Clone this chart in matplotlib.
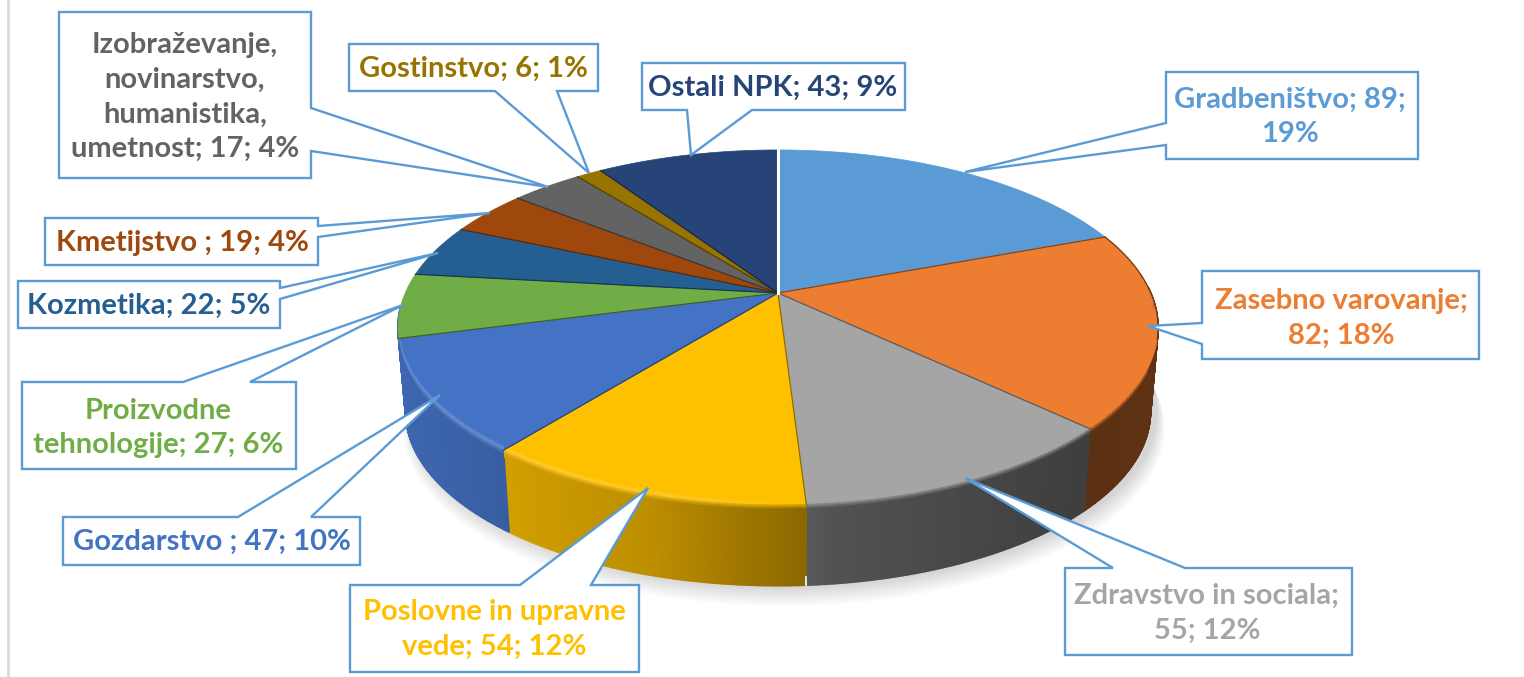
import numpy as np
import matplotlib
matplotlib.use("Agg")
import matplotlib.pyplot as plt
from matplotlib.collections import PolyCollection
from matplotlib.colors import to_rgb
from matplotlib.patches import Polygon

names = ["Gradbeništvo", "Zasebno varovanje", "Zdravstvo in sociala", "Poslovne in upravne\nvede",
         "Gozdarstvo ", "Proizvodne\ntehnologije", "Kozmetika", "Kmetijstvo ",
         "Izobraževanje,\nnovinarstvo,\nhumanistika,\numetnost", "Gostinstvo", "Ostali NPK"]
values = [89, 82, 55, 54, 47, 27, 22, 19, 17, 6, 43]
percents = [19, 18, 12, 12, 10, 6, 5, 4, 4, 1, 9]
colors = ["#5B9BD5", "#ED7D31", "#A5A5A5", "#FFC000", "#4472C4", "#70AD47",
          "#255E91", "#9E480E", "#636363", "#997300", "#264478"]
# where the label wraps: after the name, after the value
sep_name = ["", "\n", "\n", "", "", "", "", "", "", "", ""]
sep_value = ["\n", "", "", "", "", "", "", "", "", "", ""]

# pixel layout of the callouts: box, tail start, tip, tail end
boxes = [(1166, 72, 1418, 159), (1202, 271, 1479, 359), (1065, 568, 1352, 655), (350, 585, 639, 672),
         (63, 517, 360, 565), (22, 382, 296, 469), (18, 281, 280, 328), (45, 218, 318, 265),
         (59, 12, 311, 178), (349, 44, 598, 91), (642, 63, 905, 110)]
tails = [((1166, 123), (965, 172), (1166, 145)), ((1202, 323), (1148, 326), (1202, 344)),
         ((1113, 568), (965, 478), (1185, 568)), ((520, 585), (648, 488), (591, 585)),
         ((238, 517), (440, 395), (311, 517)), ((183, 382), (403, 305), (250, 382)),
         ((280, 288), (438, 253), (280, 299)), ((318, 226), (490, 213), (318, 237)),
         ((311, 108), (548, 187), (311, 151)), ((495, 91), (589, 173), (557, 91)),
         ((687, 110), (691, 155), (752, 110))]
text_pos = [(1290, 117), (1341, 318), (1207, 613), (494, 629), (212, 542), (158, 428), (149, 306),
            (182, 243), (185, 97), (473, 69), (773, 88)]

cx, cy = 778, 293
k, a, h = 0.194, 372.8, 170.8
shrink, depth = 0.98, 85
n_wall = 5  # only the first five slices show a wall


def rim(t):
    # perspective view of the pie circle, t clockwise from the back
    w = 1 + k * np.cos(t)
    return cx + a * np.sin(t) / w, cy - h * np.cos(t) / w


def low(t):
    x, y = rim(t)
    return cx + (x - cx) * shrink, cy + (y - cy) * shrink + depth


def mix(c1, c2, f):
    return tuple(np.array(c1) * (1 - f) + np.array(c2) * f)


def wall_shade(x):
    return np.interp(x, [400, 510, 650, 800, 830, 1080, 1157], [0.9, 0.82, 0.74, 0.55, 0.5, 0.38, 0.4])


fig = plt.figure(figsize=(15.24, 6.77), dpi=100)
ax = fig.add_axes([0, 0, 1, 1])
ax.set_xlim(0, 1524)
ax.set_ylim(677, 0)
ax.axis("off")
ax.plot([8, 8], [0, 677], color="#d9d9d9", lw=2, zorder=1)

edges = np.cumsum([0] + values) / sum(values) * 2 * np.pi

# soft shadow below the pie
t_all = np.linspace(0, 2 * np.pi, 360)
lx, ly = low(t_all)
for i in range(14):
    s = 1.0 + (14 - i) * 0.0016
    ax.add_patch(Polygon(np.c_[cx + 6 + (lx - cx) * s, cy + (ly - cy) * s + (14 - i) * 1.0],
                         fc="black", ec="none", alpha=0.012, zorder=2))

# outer wall
for i in range(1, n_wall):
    lo = max(edges[i], np.radians(88))
    hi = edges[i + 1] if i < n_wall - 1 else edges[i + 1] + np.radians(10)
    t = np.linspace(lo, hi, max(int((hi - lo) * 120), 4))
    x0, y0 = rim(t)
    x1, y1 = low(t)
    base = np.array(to_rgb(colors[i]))
    quads, cols = [], []
    for j in range(len(t) - 1):
        quads.append([(x0[j], y0[j]), (x0[j + 1], y0[j + 1]), (x1[j + 1], y1[j + 1]), (x1[j], y1[j])])
        cols.append(tuple(base * wall_shade(x0[j])))
    ax.add_collection(PolyCollection(quads, facecolors=cols, edgecolors=cols, linewidths=1.2, zorder=3))

# top face
for i, col in enumerate(colors):
    t = np.linspace(edges[i], edges[i + 1], max(int((edges[i + 1] - edges[i]) * 120), 4))
    x0, y0 = rim(t)
    ax.add_patch(Polygon(np.r_[[(cx, cy)], np.c_[x0, y0]], fc=col, ec=col, lw=0.5, zorder=4))

# thin dark seams between the slices, dark edge round the orange slice
for i, col in enumerate(colors):
    xe, ye = rim(np.array([edges[i]]))
    dark = tuple(np.array(to_rgb(col)) * 0.45)
    if i != 0:
        ax.plot([cx, xe[0]], [cy, ye[0]], color=dark, lw=0.9, alpha=0.8, zorder=6)
t = np.linspace(edges[1], np.radians(105), 60)
xo, yo = rim(t)
ax.plot(xo, yo, color="#6b3a14", lw=0.9, zorder=6)

# bevel between top face and wall, kept inside its own slice
offsets = [-7, -4, -2, 0, 2, 4, 7]
for i, col in enumerate(colors):
    lo, hi = max(edges[i], np.radians(93)), min(edges[i + 1], np.radians(258))
    if hi <= lo:
        continue
    t = np.linspace(lo, hi, max(int((hi - lo) * 120), 4))
    x0, y0 = rim(t)
    x1, y1 = low(t)
    base = np.array(to_rgb(col))
    quads, cols = [], []
    for j in range(len(t) - 1):
        wall = base * wall_shade(x0[j])
        glow = np.interp(x0[j], [400, 700, 800], [0.2, 0.12, 0.0])
        light = mix(base, (1, 1, 1), glow)
        steps = [base, mix(base, light, 0.7), light, mix(light, wall, 0.4), mix(light, wall, 0.75), wall]
        for n in range(6):
            quads.append([(x0[j], y0[j] + offsets[n]), (x0[j + 1], y0[j + 1] + offsets[n]),
                          (x0[j + 1], y0[j + 1] + offsets[n + 1]), (x0[j], y0[j] + offsets[n + 1])])
            cols.append(steps[n])
    bevel = PolyCollection(quads, facecolors=cols, edgecolors=cols, linewidths=0.6, zorder=5)
    ax.add_collection(bevel)
    outline = Polygon(np.r_[[(cx, cy), (x0[0], y0[0])], np.c_[x1, y1], [(x0[-1], y0[-1])]], transform=ax.transData)
    bevel.set_clip_path(outline)

# white seam at 12 o'clock and at the foot of the wall
xs, ys = rim(np.array([0.0]))
ax.plot([cx, xs[0]], [cy, ys[0]], color="white", lw=2.2, zorder=6)
xb, yb = low(np.array([edges[3]]))
ax.plot([xb[0], xb[0]], [yb[0] - 8, yb[0]], color="white", lw=1.2, zorder=6)

# callouts
for i in range(len(values)):
    l, t, r, b = boxes[i]
    p1, tip, p2 = tails[i]
    top, right, bottom, left = [], [], [], []
    if p1[1] == t:
        top = [p1, tip, p2]
    elif p1[1] == b:
        bottom = [p2, tip, p1]
    elif p1[0] == l:
        left = [p2, tip, p1]
    else:
        right = [p1, tip, p2]
    verts = [(l, t)] + top + [(r, t)] + right + [(r, b)] + bottom + [(l, b)] + left
    ax.add_patch(Polygon(verts, closed=True, fc="white", ec="#5B9BD5", lw=1.7, joinstyle="miter", zorder=7))
    label = f"{names[i]};{sep_name[i] or ' '}{values[i]};{sep_value[i] or ' '}{percents[i]}%"
    ax.text(text_pos[i][0], text_pos[i][1], label, color=colors[i], ha="center", va="center",
            family=["Lato", "DejaVu Sans"], fontweight="bold", fontsize=21, linespacing=1.42, zorder=8)

fig.savefig("out.png", dpi=100)
